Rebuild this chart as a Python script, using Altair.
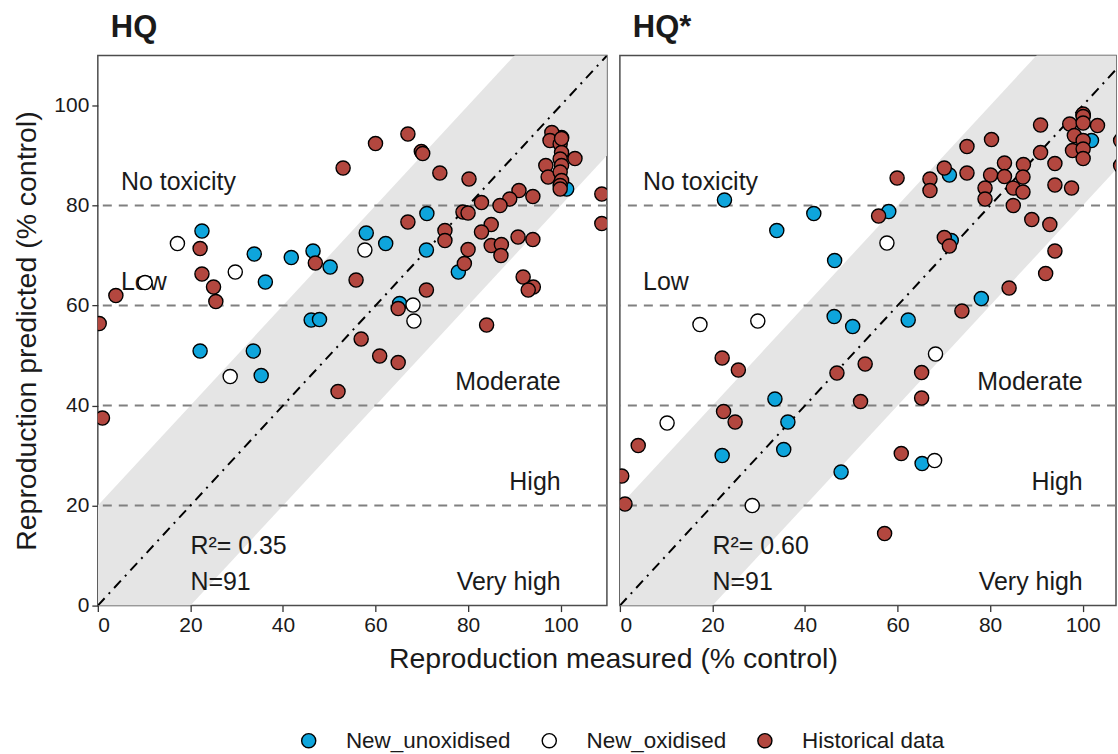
import altair as alt
import pandas as pd

# ---------------- data ----------------
groups = ["New_unoxidised", "New_oxidised", "Historical data"]
group_colors = ["#0ea5dc", "#ffffff", "#b3473f"]

# Panel HQ
hq_blue_x = [22.5, 33.8, 41.8, 46.5, 50.2, 36.2, 46.1, 47.9, 22.1, 33.6, 35.3, 58.0, 62.2, 71.0, 71.1, 77.9, 65.2, 101.3, 100.2]
hq_blue_y = [74.9, 70.3, 69.6, 70.9, 67.7, 64.7, 57.1, 57.2, 50.9, 50.9, 46.0, 74.5, 72.4, 71.1, 78.4, 66.7, 60.4, 83.3, 93.6]
hq_white_x = [17.2, 29.7, 28.6, 57.7, 68.1, 68.3, 10.2]
hq_white_y = [72.4, 66.7, 45.8, 71.1, 60.1, 56.9, 64.6]
hq_red_x = [53.0, 22.1, 47.0, 22.5, 25.0, 25.5, 3.9, 0.3, 55.8,
            60.0, 67.0, 69.9, 70.2, 73.9, 80.2,
            98.1, 97.7, 99.9, 100.2, 103.1, 99.9, 100.2, 96.8, 97.3, 99.9, 100.2, 99.9, 99.9, 100.2,
            108.9, 108.9, 91.0, 94.0, 89.0, 86.9, 82.9, 78.9, 80.0, 67.0, 75.0, 75.0, 85.0, 82.9,
            90.8, 94.0, 85.0, 87.2, 87.1, 80.0, 79.2, 71.0, 91.9, 94.1, 93.0, 64.9, 84.0,
            56.9, 60.9, 64.9, 51.9, 1.0]
hq_red_y = [87.5, 71.4, 68.5, 66.3, 63.7, 60.8, 62.0, 56.4, 65.1,
            92.4, 94.3, 90.8, 90.4, 86.5, 85.3,
            94.6, 93.0, 92.3, 90.6, 89.4, 89.3, 88.0, 88.0, 85.7, 86.7, 85.0, 84.0, 83.3, 93.4,
            82.3, 76.4, 83.0, 81.8, 81.3, 80.0, 80.6, 78.7, 78.5, 76.7, 75.0, 73.0, 76.2, 74.7,
            73.7, 73.2, 72.0, 72.2, 70.0, 71.2, 68.4, 63.1, 65.7, 63.7, 63.1, 59.4, 56.1,
            53.3, 49.9, 48.6, 42.8, 37.5]

# Panel HQ*
hqs_blue_x = [22.6, 41.9, 33.9, 46.4, 46.3, 50.3, 58.1, 71.6, 71.2, 78.1, 62.3, 33.5, 36.3, 22.1, 35.4, 47.8, 65.3, 101.9, 100.1]
hqs_blue_y = [81.1, 78.4, 75.0, 69.0, 57.8, 55.8, 78.8, 73.0, 86.1, 61.4, 57.1, 41.3, 36.7, 30.0, 31.2, 26.7, 28.4, 93.0, 98.0]
hqs_white_x = [17.3, 29.8, 10.2, 28.6, 57.7, 68.2, 68.0]
hqs_white_y = [56.2, 56.9, 36.5, 20.0, 72.5, 50.3, 29.0]
hqs_red_x = [55.9, 59.9, 67.0, 67.0, 70.1, 75.0, 75.0, 80.3, 83.1, 87.2, 80.1, 83.1, 87.1, 78.9, 85.0, 87.1,
             78.9, 85.0, 90.9, 90.9, 94.0, 94.0, 97.6, 89.0, 92.9, 94.0, 92.0, 84.1, 73.9, 70.1, 71.2,
             100.1, 100.1, 97.2, 100.1, 103.2, 98.2, 100.1, 97.8, 100.1, 100.1, 108.2, 108.2,
             22.1, 25.6, 46.9, 53.0, 65.2, 52.0, 65.2, 22.4, 24.9, 3.96, 60.8, 0.4, 1.1, 57.2]
hqs_red_y = [77.9, 85.5, 85.3, 83.0, 87.5, 91.8, 86.5, 93.2, 88.5, 88.2, 86.1, 85.8, 85.7, 83.5, 83.5, 82.7,
             81.3, 80.0, 96.1, 90.6, 88.4, 84.1, 83.5, 77.2, 76.2, 70.9, 66.4, 63.5, 58.9, 73.6, 71.9,
             98.3, 97.8, 96.3, 96.5, 96.0, 94.0, 93.0, 91.0, 91.3, 89.4, 93.0, 88.0,
             49.5, 47.1, 46.5, 48.3, 46.6, 40.8, 41.5, 38.8, 36.7, 32.0, 30.4, 25.9, 20.3, 14.4]

panel_titles = ["HQ", "HQ*"]
r2_texts = ["R\u00b2= 0.35", "R\u00b2= 0.60"]
n_texts = ["N=91", "N=91"]

tox_levels = [20, 40, 60, 80]
left_labels = ["No toxicity", "Low"]
left_label_y = [84.7, 64.7]
right_labels = ["Moderate", "High", "Very high"]
right_label_y = [44.8, 24.7, 4.8]

axis_max = 110
panel2_xmax = 107.2   # right panel is cut by the page edge
band_half = 20
tick_vals = [0, 20, 40, 60, 80, 100]

FONT = "Liberation Sans"
TXT = "#1a1a1a"


def points_df(bx, by, wx, wy, rx, ry):
    rows = []
    for x, y in zip(bx, by):
        rows.append({"x": x, "y": y, "group": groups[0]})
    for x, y in zip(wx, wy):
        rows.append({"x": x, "y": y, "group": groups[1]})
    for x, y in zip(rx, ry):
        rows.append({"x": x, "y": y, "group": groups[2]})
    return pd.DataFrame(rows)


yscale = alt.Scale(domain=[0, axis_max], nice=False, zero=False)


def panel(i, pts, first, width, xmax):
    xscale = alt.Scale(domain=[0, xmax], nice=False, zero=False)
    common = dict(values=tick_vals, grid=False, domain=False, ticks=True, tickSize=6, tickWidth=1.3,
                  tickColor="#333333", labelFontSize=21, labelFont=FONT, labelColor=TXT, labelPadding=3)
    if first:
        xaxis = alt.Axis(**common, titleFontSize=28.5, titleFont=FONT, titleFontWeight="normal",
                         titleColor=TXT, titleX=516, titleY=39, titleAlign="center", titleBaseline="top")
        yaxis = alt.Axis(**common, titleFontSize=28.5, titleFont=FONT, titleFontWeight="normal",
                         titleColor=TXT, titlePadding=12)
        xt = "Reproduction measured (% control)"
        yt = "Reproduction predicted (% control)"

        def X(f):
            return alt.X(f, scale=xscale, axis=xaxis, title=xt)

        def Y(f):
            return alt.Y(f, scale=yscale, axis=yaxis, title=yt)
    else:
        xaxis = alt.Axis(**common)

        def X(f):
            return alt.X(f, scale=xscale, axis=xaxis, title=None)

        def Y(f):
            return alt.Y(f, scale=yscale, axis=None)

    band_df = pd.DataFrame({"x": [0, axis_max]})
    band_df["lo"] = band_df["x"] - band_half
    band_df["hi"] = band_df["x"] + band_half
    band = alt.Chart(band_df).mark_area(color="#e5e5e5", clip=True).encode(
        x=X("x:Q"), y=Y("lo:Q"), y2="hi:Q",
    )
    diag_df = pd.DataFrame({"x": [0, axis_max], "y": [0, axis_max]})
    diag = alt.Chart(diag_df).mark_line(color="black", strokeWidth=2, strokeDash=[10, 6, 2, 6], clip=True).encode(
        x=X("x:Q"), y=Y("y:Q")
    )
    hl = alt.Chart(pd.DataFrame({"y": tox_levels})).mark_rule(color="#808080", strokeWidth=2, strokeDash=[9, 7]).encode(
        y=Y("y:Q")
    )
    ltxt = alt.Chart(pd.DataFrame({"t": left_labels, "y": left_label_y, "x": [5] * len(left_labels)})).mark_text(
        align="left", baseline="middle", fontSize=25, font=FONT, color=TXT
    ).encode(x=X("x:Q"), y=Y("y:Q"), text="t:N")
    rtxt = alt.Chart(pd.DataFrame({"t": right_labels, "y": right_label_y, "x": [100] * len(right_labels)})).mark_text(
        align="right", baseline="middle", fontSize=25, font=FONT, color=TXT
    ).encode(x=X("x:Q"), y=Y("y:Q"), text="t:N")
    stxt = alt.Chart(pd.DataFrame({"t": [r2_texts[i], n_texts[i]], "y": [12.0, 4.8], "x": [20, 20]})).mark_text(
        align="left", baseline="middle", fontSize=25, font=FONT, color=TXT
    ).encode(x=X("x:Q"), y=Y("y:Q"), text="t:N")

    if first:
        legend = alt.Legend(title=None, orient="none", direction="horizontal", legendX=200, legendY=675,
                            labelFontSize=22.5, labelFont=FONT, labelColor=TXT, labelLimit=0,
                            symbolSize=200, symbolStrokeColor="black", symbolStrokeWidth=1.4,
                            symbolType="circle", labelOffset=26, columnPadding=27, symbolOpacity=1)
        fill = alt.Fill("group:N", scale=alt.Scale(domain=groups, range=group_colors), legend=legend)
    else:
        fill = alt.Fill("group:N", scale=alt.Scale(domain=groups, range=group_colors), legend=None)
    pts_chart = alt.Chart(pts).mark_circle(size=200, stroke="black", strokeWidth=1.4, opacity=1, clip=True).encode(
        x=X("x:Q"), y=Y("y:Q"), fill=fill,
    )
    layers = alt.layer(band, hl, diag, ltxt, rtxt, stxt, pts_chart).properties(
        width=width, height=551,
        title=alt.TitleParams(panel_titles[i], anchor="start", frame="group", fontSize=31, fontWeight="bold",
                              font=FONT, color=TXT, dx=13, offset=12),
    )
    return layers


p1 = panel(0, points_df(hq_blue_x, hq_blue_y, hq_white_x, hq_white_y, hq_red_x, hq_red_y), True, 510, axis_max)
p2 = panel(1, points_df(hqs_blue_x, hqs_blue_y, hqs_white_x, hqs_white_y, hqs_red_x, hqs_red_y), False, 497, panel2_xmax)

chart = alt.hconcat(p1, p2, spacing=13, bounds="flush").properties(
    padding={"left": 12, "top": 10, "right": 0, "bottom": 0}, background="white"
).configure_view(stroke="#4d4d4d", strokeWidth=1.5)

chart.save("out.html", embed_options={"renderer": "svg", "actions": False})
